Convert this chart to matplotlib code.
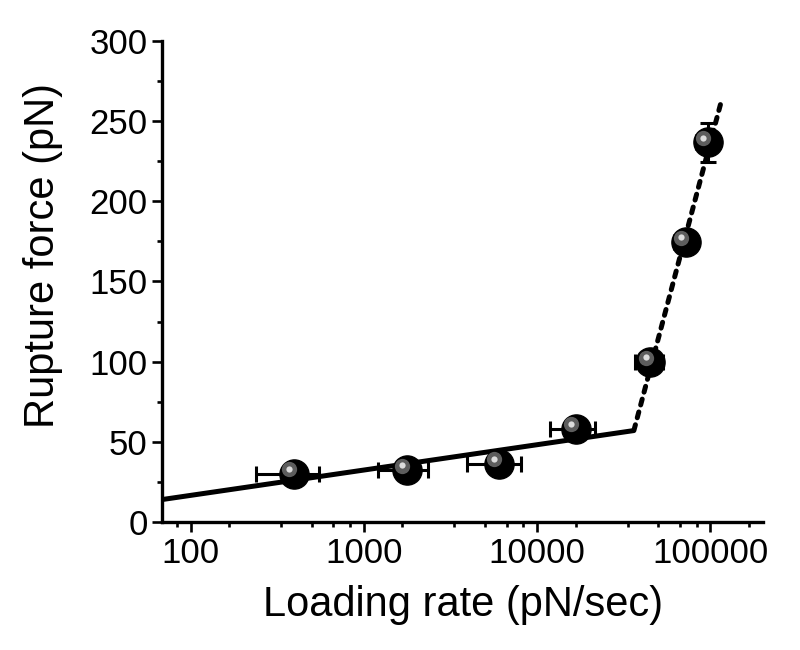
import numpy as np
import matplotlib.pyplot as plt
from matplotlib import transforms
from matplotlib.ticker import FixedLocator, NullFormatter

plt.rcParams['font.family'] = ['Liberation Sans', 'DejaVu Sans']

# data
rate = [394, 1774, 6026, 16700, 45100, 72100, 97400]
rate_err = [157, 570, 2100, 4900, 8400, 10000, 15000]
force = [30.2, 32.2, 36.4, 58.2, 99.8, 174.6, 236.7]
force_err = [2, 2, 2, 3, 4, 5, 12]

# two linear fits (force vs log rate)
fit_low_x = [68.7, 36200]
fit_low_y = [14.0, 57.0]
fit_high_x = [36200, 116800]
fit_high_y = [57.0, 264.0]

xticks = [100, 1000, 10000, 100000]
xtick_labels = ["100", "1000", "10000", "100000"]
yticks = [0, 50, 100, 150, 200, 250, 300]

fig = plt.figure(figsize=(8, 6.5), dpi=100)
ax = fig.add_axes([0.203, 0.197, 0.751, 0.740])

ax.plot(fit_low_x, fit_low_y, color="black", lw=3.6, solid_capstyle="butt", zorder=2)
ax.plot(fit_high_x, fit_high_y, color="black", lw=3.6, dashes=(1.2, 1.45),
        dash_capstyle="round", zorder=2)

ax.errorbar(rate, force, xerr=rate_err, yerr=force_err, fmt="none",
            ecolor="black", elinewidth=2.2, capsize=6, capthick=2.2, zorder=3)

# sphere-like markers: black ball + grey highlight
ax.plot(rate, force, "o", ms=21, color="black", mec="black", zorder=4)
hl = transforms.offset_copy(ax.transData, fig=fig, x=-3.5, y=3, units="points")
ax.plot(rate, force, "o", ms=11, color="#6e6e6e", mec="none", alpha=0.85,
        transform=hl, zorder=5)
hl2 = transforms.offset_copy(ax.transData, fig=fig, x=-3.5, y=3.5, units="points")
ax.plot(rate, force, "o", ms=4.5, color="#dcdcdc", mec="none",
        transform=hl2, zorder=6)

ax.set_xscale("log")
ax.set_xlim(68.7, 202000)
ax.set_ylim(0, 300)

ax.xaxis.set_major_locator(FixedLocator(xticks))
ax.set_xticklabels(xtick_labels)
minor_x = [d * 10 * k / 6 for d in [10, 100, 1000, 10000, 100000] for k in range(1, 6)]
ax.xaxis.set_minor_locator(FixedLocator(minor_x))
ax.xaxis.set_minor_formatter(NullFormatter())

ax.set_yticks(yticks)
ax.set_yticks([25, 75, 125, 175, 225, 275], minor=True)

for side in ["top", "right"]:
    ax.spines[side].set_visible(False)
for side in ["left", "bottom"]:
    ax.spines[side].set_linewidth(2.4)

ax.tick_params(axis="both", which="major", direction="out", length=7.5, width=1.9,
               labelsize=25, pad=3)
ax.tick_params(axis="both", which="minor", direction="out", length=3.8, width=1.9)

ax.set_xlabel("Loading rate (pN/sec)", fontsize=30, labelpad=11)
ax.set_ylabel("Rupture force (pN)", fontsize=30)
ax.yaxis.set_label_coords(-0.166, 0.554)

fig.savefig("out.png", dpi=100)
